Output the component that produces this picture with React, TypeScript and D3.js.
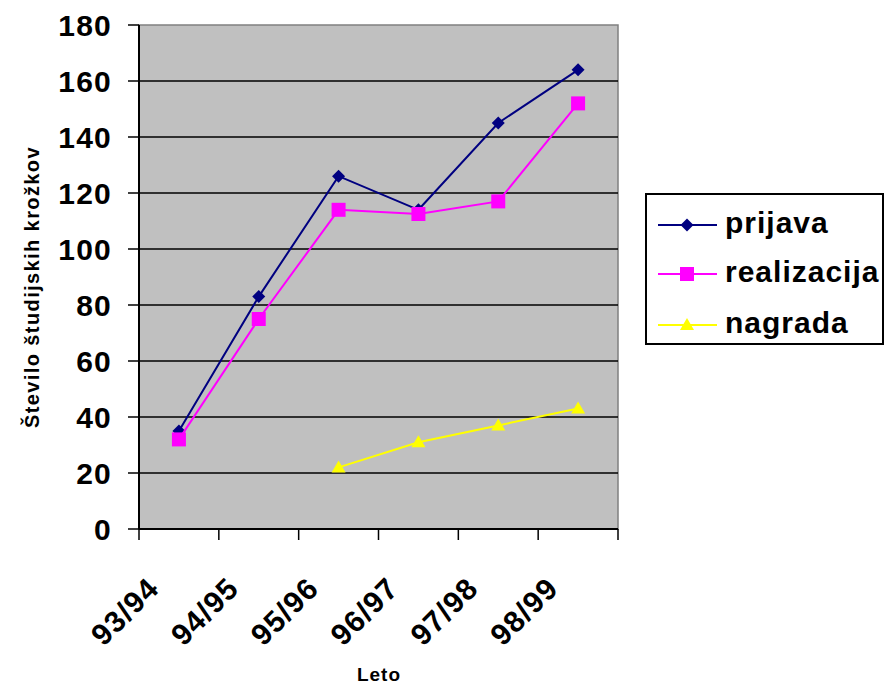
import React from "react";
import * as d3 from "d3";

const categories = ["93/94", "94/95", "95/96", "96/97", "97/98", "98/99"];
const prijava: (number | null)[] = [35, 83, 126, 114, 145, 164];
const realizacija: (number | null)[] = [32, 75, 114, 112.5, 117, 152];
const nagrada: (number | null)[] = [null, null, 22, 31, 37, 43];
const yTicks = [0, 20, 40, 60, 80, 100, 120, 140, 160, 180];

const seriesList = [
  { name: "prijava", values: prijava, color: "#000080", marker: "diamond" },
  { name: "realizacija", values: realizacija, color: "#FF00FF", marker: "square" },
  { name: "nagrada", values: nagrada, color: "#FFFF00", marker: "triangle" },
];

const W = 884, H = 686;
const L = 139, R = 618, T = 25, B = 529;
const font = "Arial, 'Liberation Sans', sans-serif";

function Marker({ type, x, y, color }: { type: string; x: number; y: number; color: string }) {
  if (type === "diamond") {
    const s = 6.5;
    return <path d={`M${x},${y - s}L${x + s},${y}L${x},${y + s}L${x - s},${y}Z`} fill={color} />;
  }
  if (type === "square") {
    const s = 7;
    return <rect x={x - s} y={y - s} width={2 * s} height={2 * s} fill={color} />;
  }
  return <path d={`M${x},${y - 7}L${x + 7},${y + 5}L${x - 7},${y + 5}Z`} fill={color} />;
}

export default function App() {
  const x = d3.scaleBand().domain(categories).range([L, R]).padding(0);
  const y = d3.scaleLinear().domain([0, 180]).range([B, T]);
  const cx = (c: string) => (x(c) as number) + x.bandwidth() / 2;
  const line = d3
    .line<[string, number | null]>()
    .defined((d) => d[1] != null)
    .x((d) => cx(d[0]))
    .y((d) => y(d[1] as number));
  const tickXs = categories.map((c) => x(c) as number).concat([R]);

  return (
    <svg width={W} height={H} style={{ position: "absolute", left: 0, top: 0, background: "#fff" }}>
      <rect x={L} y={T} width={R - L} height={B - T} fill="#C0C0C0" stroke="#808080" strokeWidth={1.5} />
      {yTicks.map((t) => (
        <g key={t}>
          {t > 0 && t < 180 && <line x1={L} x2={R} y1={y(t)} y2={y(t)} stroke="#000" strokeWidth={1.5} />}
          <line x1={L - 11} x2={L} y1={y(t)} y2={y(t)} stroke="#000" strokeWidth={1.5} />
          <text
            x={L - 27}
            y={y(t)}
            dy="0.36em"
            textAnchor="end"
            fontFamily={font}
            fontWeight="bold"
            fontSize={30}
            letterSpacing={1.2}
          >
            {t}
          </text>
        </g>
      ))}
      <line x1={L} x2={L} y1={T} y2={B} stroke="#000" strokeWidth={2} />
      <line x1={L} x2={R} y1={B} y2={B} stroke="#000" strokeWidth={2} />
      {tickXs.map((tx, i) => (
        <line key={i} x1={tx} x2={tx} y1={B} y2={B + 11} stroke="#000" strokeWidth={1.5} />
      ))}
      {categories.map((c) => (
        <text
          key={c}
          transform={`translate(${cx(c) - 18},${B + 61}) rotate(-45)`}
          textAnchor="end"
          fontFamily={font}
          fontWeight="bold"
          fontSize={30}
          letterSpacing={1.2}
        >
          {c}
        </text>
      ))}
      {seriesList.map((s) => {
        const pts = categories.map((c, i) => [c, s.values[i]] as [string, number | null]);
        return (
          <g key={s.name}>
            <path d={line(pts) || ""} fill="none" stroke={s.color} strokeWidth={2} />
            {pts
              .filter((p) => p[1] != null)
              .map((p) => (
                <Marker key={p[0]} type={s.marker} x={cx(p[0])} y={y(p[1] as number)} color={s.color} />
              ))}
          </g>
        );
      })}
      <text
        transform={`translate(39,${(T + B) / 2 + 10}) rotate(-90)`}
        textAnchor="middle"
        fontFamily={font}
        fontWeight="bold"
        fontSize={20}
        letterSpacing={1.4}
      >
        Število študijskih krožkov
      </text>
      <text x={379} y={681} textAnchor="middle" fontFamily={font} fontWeight="bold" fontSize={19} letterSpacing={1}>
        Leto
      </text>
      <g>
        <rect x={646} y={194} width={237} height={150} fill="#fff" stroke="#000" strokeWidth={2} />
        {seriesList.map((s, i) => {
          const ly = [225, 274, 325][i];
          return (
            <g key={s.name}>
              <line x1={658} x2={717} y1={ly} y2={ly} stroke={s.color} strokeWidth={2} />
              <Marker type={s.marker} x={687} y={ly} color={s.color} />
              <text x={725} y={ly + 8} fontFamily={font} fontWeight="bold" fontSize={30} letterSpacing={1}>
                {s.name}
              </text>
            </g>
          );
        })}
      </g>
    </svg>
  );
}
